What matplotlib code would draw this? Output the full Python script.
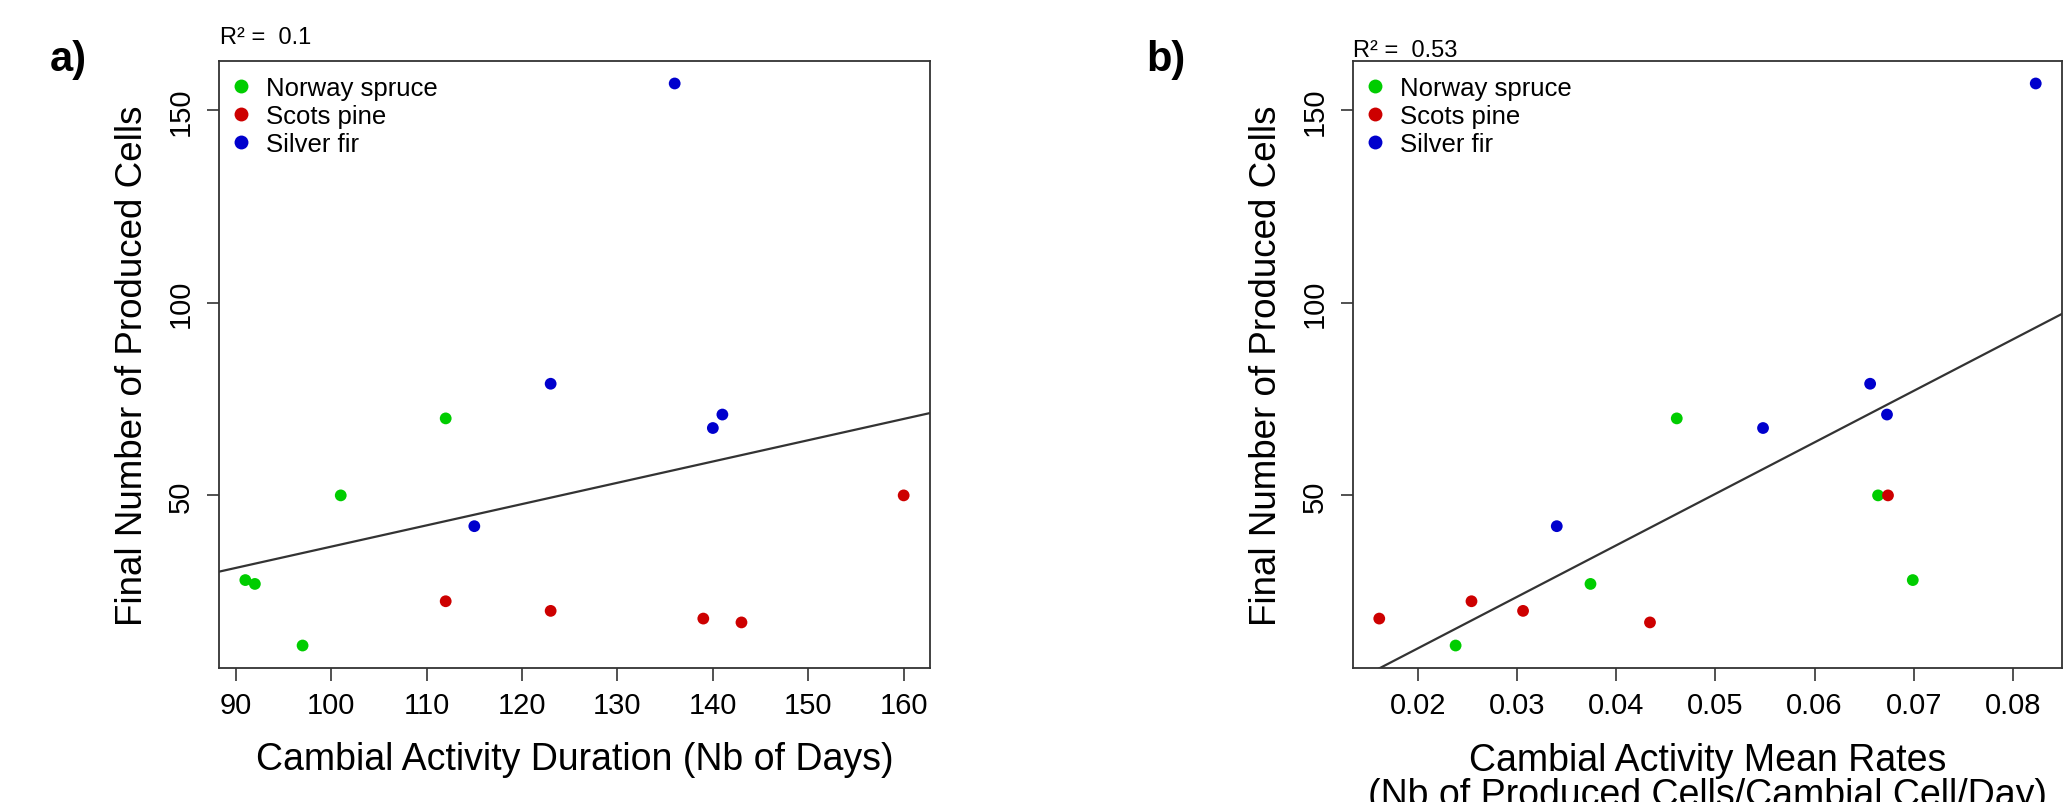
import numpy as np
import matplotlib
matplotlib.use("Agg")
import matplotlib.pyplot as plt
from matplotlib.lines import Line2D

plt.rcParams['font.family'] = ['Liberation Sans', 'DejaVu Sans']

# Datos
especies = ["Norway spruce", "Scots pine", "Silver fir"]
colores = ["#00CD00", "#CD0000", "#0000CD"]

# Celulas finales producidas (mismas en ambos paneles)
celulas_spruce = [28, 27, 11, 50, 70]
celulas_pine = [22.5, 20, 18, 17, 50]
celulas_fir = [79, 42, 67.5, 71, 157]

# Panel a: duracion de la actividad cambial (dias)
dias_spruce = [91, 92, 97, 101, 112]
dias_pine = [112, 123, 139, 143, 160]
dias_fir = [123, 115, 140, 141, 136]

# Panel b: tasas medias (celulas/celula cambial/dia)
tasa_spruce = [0.0699, 0.0374, 0.0238, 0.0664, 0.0461]
tasa_pine = [0.0254, 0.0306, 0.0161, 0.0434, 0.0674]
tasa_fir = [0.0656, 0.0340, 0.0548, 0.0673, 0.0823]

r2_textos = ["R\u00b2 =  0.1", "R\u00b2 =  0.53"]
xticks_a = [90, 100, 110, 120, 130, 140, 150, 160]
xticks_b = [0.02, 0.03, 0.04, 0.05, 0.06, 0.07, 0.08]
yticks = [50, 100, 150]

W, H = 2069, 803
fig = plt.figure(figsize=(W / 100, H / 100), dpi=100)

def rango_r(v):
    # mismo margen del 4% que usa R
    v = np.asarray(v, dtype=float)
    d = (v.max() - v.min()) * 0.04
    return v.min() - d, v.max() + d

def panel(ax, xs, ys, xticks, xfmt, r2, xlabel, letra, letra_xy, r2_xy, xlabel_y):
    todos_x = np.concatenate([np.asarray(x, float) for x in xs])
    todos_y = np.concatenate([np.asarray(y, float) for y in ys])
    for x, y, c in zip(xs, ys, colores):
        ax.scatter(x, y, s=72, color=c, edgecolors='none', zorder=3)
    xl = rango_r(todos_x)
    yl = rango_r(todos_y)
    ax.set_xlim(xl)
    ax.set_ylim(yl)
    # recta de regresion (como abline de R)
    m, b = np.polyfit(todos_x, todos_y, 1)
    xx = np.array(xl)
    ax.plot(xx, m * xx + b, color='#333333', lw=1.6, zorder=2)

    ax.set_xticks(xticks)
    ax.set_xticklabels([xfmt(t) for t in xticks])
    ax.set_yticks(yticks)
    ax.tick_params(axis='both', direction='out', length=9, width=1.2,
                   color='#333333', labelsize=21)
    ax.tick_params(axis='x', pad=7.5)
    ax.tick_params(axis='y', pad=8.5)
    for lab in ax.get_yticklabels():
        lab.set_rotation(90)
        lab.set_va('center')
    for s in ax.spines.values():
        s.set_color('#333333')
        s.set_linewidth(1.3)

    ax.set_ylabel("Final Number of Produced Cells", fontsize=26.5)
    ax.yaxis.set_label_coords(-0.097, 0.5)
    ax.set_xlabel(xlabel, fontsize=27, linespacing=0.95, va='top')
    ax.xaxis.set_label_coords(0.5, xlabel_y)

    manejadores = [Line2D([], [], marker='o', ls='none', color=c, markersize=10,
                          markeredgewidth=0) for c in colores]
    ax.legend(manejadores, especies, loc='upper left', frameon=False,
              bbox_to_anchor=(0.017, 0.975), borderaxespad=0, borderpad=0,
              handlelength=0.8, handletextpad=0.55, labelspacing=0.16,
              fontsize=18.5)

    fig.text(r2_xy[0] / W, 1 - r2_xy[1] / H, r2, fontsize=17, va='baseline', ha='left')
    fig.text(letra_xy[0] / W, 1 - letra_xy[1] / H, letra, fontsize=30,
             fontweight='bold', va='baseline', ha='left')

top, bottom = 62, 669
ax_a = fig.add_axes([219 / W, 1 - bottom / H, (930 - 219) / W, (bottom - top) / H])
ax_b = fig.add_axes([1353 / W, 1 - bottom / H, (2062 - 1353) / W, (bottom - top) / H])

panel(ax_a, [dias_spruce, dias_pine, dias_fir],
      [celulas_spruce, celulas_pine, celulas_fir],
      xticks_a, lambda t: f"{t}", r2_textos[0],
      "Cambial Activity Duration (Nb of Days)", "a)", (50, 71), (220, 44), -0.12)

panel(ax_b, [tasa_spruce, tasa_pine, tasa_fir],
      [celulas_spruce, celulas_pine, celulas_fir],
      xticks_b, lambda t: f"{t:.2f}", r2_textos[1],
      "Cambial Activity Mean Rates\n(Nb of Produced Cells/Cambial Cell/Day)",
      "b)", (1146, 71), (1353, 57), -0.122)

fig.savefig("out.png", dpi=100)
